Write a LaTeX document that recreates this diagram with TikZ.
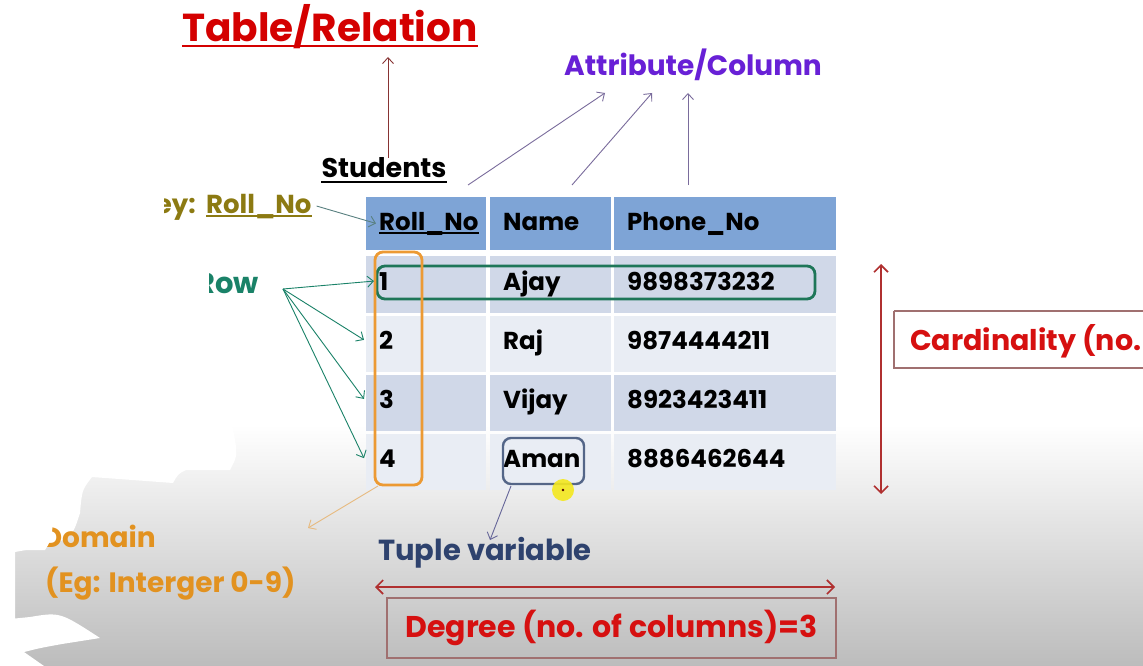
\documentclass[tikz,border=0pt]{standalone}
\usepackage{fontspec}
\setmainfont{Poppins}
\usetikzlibrary{arrows.meta,positioning}

\definecolor{titlered}{RGB}{212,0,0}
\definecolor{attrpurple}{RGB}{104,32,214}
\definecolor{attrarrow}{RGB}{122,108,156}
\definecolor{keyolive}{RGB}{140,122,18}
\definecolor{rowteal}{RGB}{26,130,104}
\definecolor{boxgreen}{RGB}{30,118,88}
\definecolor{domorange}{RGB}{226,146,32}
\definecolor{boxorange}{RGB}{236,154,52}
\definecolor{tupleblue}{RGB}{46,66,110}
\definecolor{amanbox}{RGB}{84,102,136}
\definecolor{headblue}{RGB}{126,164,214}
\definecolor{rowdark}{RGB}{208,216,232}
\definecolor{rowlight}{RGB}{233,237,244}
\definecolor{cardred}{RGB}{214,16,16}
\definecolor{cardline}{RGB}{176,48,48}
\definecolor{boxbrown}{RGB}{160,112,112}
\definecolor{bgbot}{RGB}{188,188,188}
\definecolor{dotyellow}{RGB}{244,232,30}

\newcommand{\fs}[1]{\fontsize{#1}{#1}\selectfont}

\tikzset{
  lbl/.style={font=\bfseries, inner sep=0pt},
  cell/.style={font=\bfseries\fs{24.5}, anchor=base west, inner sep=0pt},
  thin arrow/.style={-{Straight Barb[length=6pt,width=11pt]}, line width=0.9pt},
  span arrow/.style={{Straight Barb[length=7pt,width=14pt]}-{Straight Barb[length=7pt,width=14pt]}, line width=1.6pt, cardline}
}

\begin{document}
\begin{tikzpicture}[x=1pt,y=-1pt]
\useasboundingbox (0,0) rectangle (1143,666);

% Background
\fill[white] (0,0) rectangle (1143,666);
\shade[top color=white,bottom color=bgbot] (0,425) rectangle (1143,666);

% White blobs, bottom left
\fill[white] (0,424) -- (232,424) .. controls (238,455) .. (230,470) -- (186,470) .. controls (178,474) .. (173,483)
  -- (92,477) .. controls (82,490) .. (80,513) .. controls (72,538) .. (42,547) -- (15,552) -- (15,666) -- (0,666) -- cycle;
\fill[white] (30,617) .. controls (60,612) .. (100,638) -- (62,644) .. controls (40,648) .. (24,652) -- (44,666) -- (0,666) -- (0,620) -- cycle;

% Table cells
\foreach \xa/\xb in {366/486, 490/611, 614/836} {
  \fill[headblue] (\xa,197) rectangle (\xb,250);
  \fill[rowdark] (\xa,256) rectangle (\xb,313);
  \fill[rowlight] (\xa,316) rectangle (\xb,372);
  \fill[rowdark] (\xa,375) rectangle (\xb,431);
  \fill[rowlight] (\xa,434) rectangle (\xb,490);
}

% Header
\node[cell] (rollh) at (379,230) {Roll\_No};
\node[cell] (nameh) at (503,230) {Name};
\node[cell] (phoneh) at (627,230) {Phone\_No};
\draw[line width=1.6pt] ([yshift=-3pt]rollh.base west) -- ([yshift=-3pt]rollh.base east);

% Rows
\foreach \r/\n/\p/\y in {1/Ajay/9898373232/290, 2/Raj/9874444211/349, 3/Vijay/8923423411/408, 4/Aman/8886462644/467} {
  \node[cell] (c\r) at (379,\y) {\r};
  \node[cell] (n\r) at (503,\y) {\n};
  \node[cell] (p\r) at (627,\y) {\p};
}

% Boxes on the table
\draw[boxgreen, line width=2.8pt, rounded corners=8pt] (377,266) rectangle (815,299);
\draw[boxorange, line width=2.8pt, rounded corners=8pt] (375,252) rectangle (422,485);
\draw[amanbox, line width=2.4pt, rounded corners=8pt] (503,438) rectangle (584,484);
\fill[dotyellow, opacity=0.9] (563,490) circle (11);
\fill[black!70!red] (563,490) circle (1.3);

% Title
\node[lbl, font=\bfseries\fs{39}, text=titlered, anchor=base] (title) at (330,42) {Table/Relation};
\draw[titlered, line width=2.6pt] ([yshift=-4pt]title.base west) -- ([yshift=-4pt]title.base east);

% Students
\node[lbl, font=\bfseries\fs{27}, anchor=base] (students) at (384,178) {Students};
\draw[line width=1.8pt] ([yshift=-4pt]students.base west) -- ([yshift=-4pt]students.base east);
\coordinate (st) at (388,57);
\draw[thin arrow, black!45!red!60!gray] ([xshift=4pt]students.north) -- (st);

% Attribute/Column
\node[lbl, font=\bfseries\fs{28}, text=attrpurple, anchor=base] (attr) at (693,76) {Attribute/Column};
\coordinate (a1) at (468,185);
\coordinate (a2) at (572,185);
\coordinate (a3) at (688,185);
\coordinate (t1) at (605,93);
\coordinate (t2) at (652,93);
\coordinate (t3) at (688,93);
\foreach \i in {1,2,3} {
  \draw[thin arrow, attrarrow] (a\i) -- (t\i);
}

% Key
\begin{scope}
\clip (164,180) rectangle (320,230);
\node[lbl, font=\bfseries\fs{26}, text=keyolive, anchor=base east] (pk) at (196,213) {Key:};
\end{scope}
\node[lbl, font=\bfseries\fs{26}, text=keyolive, anchor=base west] (pkname) at (206,213) {Roll\_No};
\draw[keyolive, line width=1.6pt] ([yshift=-3pt]pkname.base west) -- ([yshift=-3pt]pkname.base east);
\draw[thin arrow, gray!70!teal] ([xshift=5pt]pkname.east) -- ([xshift=-3pt]rollh.west);

% Row
\begin{scope}
\clip (209,250) rectangle (300,320);
\node[lbl, font=\bfseries\fs{29}, text=rowteal, anchor=base west] (row) at (215,293) {\llap{R}ow};
\end{scope}
\coordinate (rw) at (283,289);
\draw[thin arrow, rowteal] (rw) -- ([xshift=-5pt]c1.west);
\foreach \i in {2,3,4} {
  \draw[thin arrow, rowteal] (rw) -- ([xshift=-15pt]c\i.west);
}

% Domain
\node[lbl, font=\bfseries\fs{28}, text=domorange, anchor=base west] (domain) at (62,547) {\llap{D}omain};
\node[lbl, font=\bfseries\fs{28}, text=domorange, anchor=base west] (domeg) at (45,592) {(Eg: Interger 0-9)};
\fill[white] (0,512) -- (46,512) .. controls (53,522) .. (52,532) .. controls (50,542) .. (45,550) -- (0,550) -- cycle;
\coordinate (ob) at (378,486);
\coordinate (oe) at (308,528);
\draw[thin arrow, domorange!70!brown!60!white] (ob) -- (oe);

% Tuple variable
\node[lbl, font=\bfseries\fs{29}, text=tupleblue, anchor=base west] (tuple) at (378,560) {Tuple variable};
\coordinate (ab) at (511,486);
\coordinate (ae) at (490,540);
\draw[thin arrow, gray!80!blue] (ab) -- (ae);

% Cardinality
\coordinate (ctop) at (881,264);
\coordinate (cbot) at (881,494);
\draw[span arrow] (ctop) -- (cbot);
\draw[boxbrown, line width=1.1pt] (894,311) -- (1150,311) (894,311) -- (894,368) -- (1150,368);
\node[lbl, font=\bfseries\fs{28.5}, text=cardred, anchor=base west] (card) at (910,350) {Cardinality (no.};

% Degree
\coordinate (dl) at (375,587);
\coordinate (dr) at (835,587);
\draw[span arrow] (dl) -- (dr);
\node[draw=boxbrown, line width=1.1pt, minimum width=449pt, minimum height=60pt, inner sep=0pt] (degbox) at (611.5,628) {};
\node[lbl, font=\bfseries\fs{30}, text=cardred] (degree) at (degbox.center) {Degree (no. of columns)=3};

\end{tikzpicture}
\end{document}
